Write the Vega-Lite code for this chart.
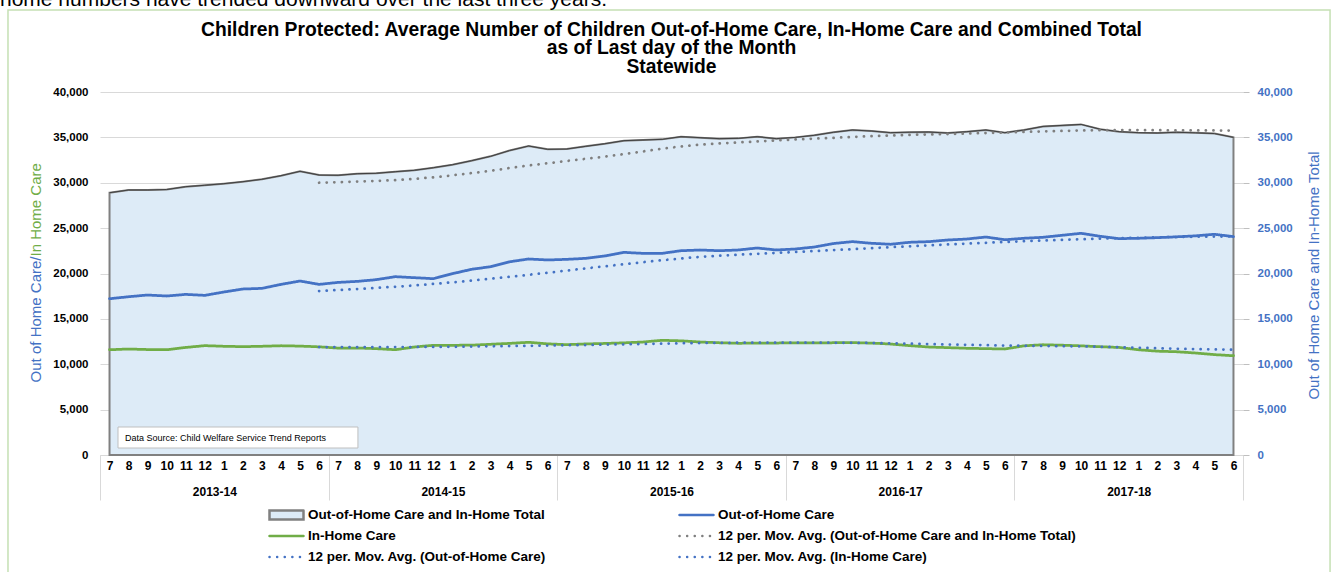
{
  "$schema": "https://vega.github.io/schema/vega-lite/v6.json",
  "width": 1143,
  "height": 363,
  "autosize": {"type": "none"},
  "padding": {"left": 100, "top": 92, "right": 100, "bottom": 117},
  "config": {"view": {"stroke": null}, "font": "Liberation Sans"},
  "title": {
    "text": ["Children Protected: Average Number of Children Out-of-Home Care, In-Home Care and Combined Total", "as of Last day of the Month", "Statewide"],
    "font": "Liberation Sans", "fontSize": 19.3, "fontWeight": "bold", "color": "#000000",
    "anchor": "middle", "frame": "group", "lineHeight": 18.5, "offset": -88
  },
  "datasets": {
    "main": [
      {"idx": 1, "total": 28900, "ooh": 17220, "inhome": 11600},
      {"idx": 2, "total": 29200, "ooh": 17440, "inhome": 11680},
      {"idx": 3, "total": 29200, "ooh": 17630, "inhome": 11620},
      {"idx": 4, "total": 29250, "ooh": 17520, "inhome": 11600},
      {"idx": 5, "total": 29570, "ooh": 17700, "inhome": 11850},
      {"idx": 6, "total": 29720, "ooh": 17590, "inhome": 12050},
      {"idx": 7, "total": 29900, "ooh": 17960, "inhome": 11980},
      {"idx": 8, "total": 30120, "ooh": 18290, "inhome": 11940},
      {"idx": 9, "total": 30380, "ooh": 18360, "inhome": 11980},
      {"idx": 10, "total": 30780, "ooh": 18800, "inhome": 12040},
      {"idx": 11, "total": 31260, "ooh": 19170, "inhome": 12000},
      {"idx": 12, "total": 30850, "ooh": 18800, "inhome": 11920, "ma_total": 30000, "ma_ooh": 18070, "ma_inhome": 11900},
      {"idx": 13, "total": 30820, "ooh": 19020, "inhome": 11780, "ma_total": 30060, "ma_ooh": 18180, "ma_inhome": 11890},
      {"idx": 14, "total": 31000, "ooh": 19130, "inhome": 11790, "ma_total": 30130, "ma_ooh": 18290, "ma_inhome": 11880},
      {"idx": 15, "total": 31040, "ooh": 19320, "inhome": 11720, "ma_total": 30200, "ma_ooh": 18410, "ma_inhome": 11880},
      {"idx": 16, "total": 31220, "ooh": 19650, "inhome": 11600, "ma_total": 30290, "ma_ooh": 18540, "ma_inhome": 11890},
      {"idx": 17, "total": 31370, "ooh": 19540, "inhome": 11900, "ma_total": 30420, "ma_ooh": 18680, "ma_inhome": 11900},
      {"idx": 18, "total": 31660, "ooh": 19430, "inhome": 12090, "ma_total": 30600, "ma_ooh": 18850, "ma_inhome": 11910},
      {"idx": 19, "total": 31990, "ooh": 19980, "inhome": 12090, "ma_total": 30820, "ma_ooh": 19030, "ma_inhome": 11920},
      {"idx": 20, "total": 32430, "ooh": 20460, "inhome": 12100, "ma_total": 31060, "ma_ooh": 19220, "ma_inhome": 11950},
      {"idx": 21, "total": 32910, "ooh": 20750, "inhome": 12200, "ma_total": 31320, "ma_ooh": 19420, "ma_inhome": 11980},
      {"idx": 22, "total": 33550, "ooh": 21290, "inhome": 12300, "ma_total": 31620, "ma_ooh": 19640, "ma_inhome": 12000},
      {"idx": 23, "total": 34050, "ooh": 21600, "inhome": 12420, "ma_total": 31900, "ma_ooh": 19860, "ma_inhome": 12030},
      {"idx": 24, "total": 33680, "ooh": 21490, "inhome": 12250, "ma_total": 32150, "ma_ooh": 20080, "ma_inhome": 12060},
      {"idx": 25, "total": 33720, "ooh": 21560, "inhome": 12160, "ma_total": 32400, "ma_ooh": 20320, "ma_inhome": 12090},
      {"idx": 26, "total": 34010, "ooh": 21670, "inhome": 12240, "ma_total": 32640, "ma_ooh": 20560, "ma_inhome": 12120},
      {"idx": 27, "total": 34300, "ooh": 21930, "inhome": 12290, "ma_total": 32880, "ma_ooh": 20800, "ma_inhome": 12160},
      {"idx": 28, "total": 34640, "ooh": 22330, "inhome": 12360, "ma_total": 33150, "ma_ooh": 21020, "ma_inhome": 12190},
      {"idx": 29, "total": 34710, "ooh": 22220, "inhome": 12450, "ma_total": 33450, "ma_ooh": 21250, "ma_inhome": 12230},
      {"idx": 30, "total": 34780, "ooh": 22220, "inhome": 12640, "ma_total": 33750, "ma_ooh": 21460, "ma_inhome": 12270},
      {"idx": 31, "total": 35080, "ooh": 22510, "inhome": 12580, "ma_total": 34000, "ma_ooh": 21660, "ma_inhome": 12310},
      {"idx": 32, "total": 34970, "ooh": 22590, "inhome": 12450, "ma_total": 34200, "ma_ooh": 21840, "ma_inhome": 12340},
      {"idx": 33, "total": 34860, "ooh": 22510, "inhome": 12370, "ma_total": 34330, "ma_ooh": 21960, "ma_inhome": 12360},
      {"idx": 34, "total": 34890, "ooh": 22590, "inhome": 12310, "ma_total": 34440, "ma_ooh": 22070, "ma_inhome": 12370},
      {"idx": 35, "total": 35080, "ooh": 22810, "inhome": 12330, "ma_total": 34550, "ma_ooh": 22170, "ma_inhome": 12380},
      {"idx": 36, "total": 34860, "ooh": 22590, "inhome": 12340, "ma_total": 34660, "ma_ooh": 22270, "ma_inhome": 12380},
      {"idx": 37, "total": 35000, "ooh": 22700, "inhome": 12350, "ma_total": 34770, "ma_ooh": 22370, "ma_inhome": 12380},
      {"idx": 38, "total": 35230, "ooh": 22920, "inhome": 12360, "ma_total": 34860, "ma_ooh": 22470, "ma_inhome": 12380},
      {"idx": 39, "total": 35560, "ooh": 23300, "inhome": 12370, "ma_total": 34950, "ma_ooh": 22580, "ma_inhome": 12370},
      {"idx": 40, "total": 35810, "ooh": 23510, "inhome": 12380, "ma_total": 35050, "ma_ooh": 22680, "ma_inhome": 12360},
      {"idx": 41, "total": 35700, "ooh": 23330, "inhome": 12330, "ma_total": 35130, "ma_ooh": 22790, "ma_inhome": 12340},
      {"idx": 42, "total": 35520, "ooh": 23220, "inhome": 12230, "ma_total": 35210, "ma_ooh": 22900, "ma_inhome": 12310},
      {"idx": 43, "total": 35570, "ooh": 23440, "inhome": 12050, "ma_total": 35270, "ma_ooh": 23000, "ma_inhome": 12270},
      {"idx": 44, "total": 35590, "ooh": 23510, "inhome": 11900, "ma_total": 35320, "ma_ooh": 23100, "ma_inhome": 12220},
      {"idx": 45, "total": 35480, "ooh": 23690, "inhome": 11830, "ma_total": 35370, "ma_ooh": 23200, "ma_inhome": 12180},
      {"idx": 46, "total": 35630, "ooh": 23800, "inhome": 11760, "ma_total": 35420, "ma_ooh": 23290, "ma_inhome": 12140},
      {"idx": 47, "total": 35810, "ooh": 24020, "inhome": 11720, "ma_total": 35480, "ma_ooh": 23380, "ma_inhome": 12100},
      {"idx": 48, "total": 35520, "ooh": 23720, "inhome": 11680, "ma_total": 35540, "ma_ooh": 23470, "ma_inhome": 12060},
      {"idx": 49, "total": 35810, "ooh": 23880, "inhome": 12030, "ma_total": 35600, "ma_ooh": 23560, "ma_inhome": 12030},
      {"idx": 50, "total": 36210, "ooh": 23990, "inhome": 12150, "ma_total": 35660, "ma_ooh": 23640, "ma_inhome": 12010},
      {"idx": 51, "total": 36320, "ooh": 24210, "inhome": 12100, "ma_total": 35710, "ma_ooh": 23710, "ma_inhome": 11990},
      {"idx": 52, "total": 36430, "ooh": 24430, "inhome": 12030, "ma_total": 35760, "ma_ooh": 23780, "ma_inhome": 11970},
      {"idx": 53, "total": 35900, "ooh": 24100, "inhome": 11930, "ma_total": 35790, "ma_ooh": 23840, "ma_inhome": 11930},
      {"idx": 54, "total": 35630, "ooh": 23840, "inhome": 11850, "ma_total": 35800, "ma_ooh": 23890, "ma_inhome": 11880},
      {"idx": 55, "total": 35520, "ooh": 23880, "inhome": 11600, "ma_total": 35800, "ma_ooh": 23940, "ma_inhome": 11820},
      {"idx": 56, "total": 35480, "ooh": 23950, "inhome": 11440, "ma_total": 35790, "ma_ooh": 23980, "ma_inhome": 11760},
      {"idx": 57, "total": 35560, "ooh": 24040, "inhome": 11380, "ma_total": 35780, "ma_ooh": 24020, "ma_inhome": 11710},
      {"idx": 58, "total": 35500, "ooh": 24150, "inhome": 11240, "ma_total": 35770, "ma_ooh": 24050, "ma_inhome": 11670},
      {"idx": 59, "total": 35420, "ooh": 24320, "inhome": 11060, "ma_total": 35760, "ma_ooh": 24070, "ma_inhome": 11630},
      {"idx": 60, "total": 35000, "ooh": 24060, "inhome": 10940, "ma_total": 35750, "ma_ooh": 24080, "ma_inhome": 11600}
    ]
  },
  "resolve": {"axis": {"x": "independent", "y": "independent"}},
  "layer": [
    {
      "data": {"values": [{"frame": "border"}]},
      "mark": {"type": "rect", "fill": "transparent", "stroke": "#C5E0B4", "strokeWidth": 1.5},
      "encoding": {
        "x": {"datum": -4.33, "type": "quantitative", "scale": {"domain": [0.5, 60.5], "nice": false, "zero": false}, "axis": null},
        "x2": {"datum": 65.07},
        "y": {"datum": 49035, "type": "quantitative", "scale": {"domain": [0, 40000], "nice": false, "zero": false}, "axis": null},
        "y2": {"datum": -16000}
      }
    },
    {
      "data": {"values": [{"note": "home numbers have trended downward over the last three years."}]},
      "mark": {"type": "text", "align": "left", "baseline": "alphabetic", "font": "Liberation Sans", "fontSize": 21, "color": "#000000"},
      "encoding": {
        "text": {"field": "note"},
        "x": {"datum": -4.75, "type": "quantitative", "scale": {"domain": [0.5, 60.5], "nice": false, "zero": false}, "axis": null},
        "y": {"datum": 49475, "type": "quantitative", "scale": {"domain": [0, 40000], "nice": false, "zero": false}, "axis": null}
      }
    },
    {
      "data": {"name": "main"},
      "mark": {"type": "area", "fill": "#DDEBF7", "stroke": "#808080", "strokeWidth": 2},
      "encoding": {
        "x": {
          "field": "idx", "type": "quantitative",
          "scale": {"domain": [0.5, 60.5], "nice": false, "zero": false},
          "axis": {
            "orient": "bottom", "title": null, "values": [0.5, 12.5, 24.5, 36.5, 48.5, 60.5],
            "labels": false, "ticks": true, "tickSize": 45, "tickColor": "#D9D9D9", "tickWidth": 1,
            "domain": true, "domainColor": "#D9D9D9", "domainWidth": 1, "grid": false
          }
        },
        "y": {
          "field": "total", "type": "quantitative",
          "scale": {"domain": [0, 40000], "nice": false, "zero": false},
          "axis": {
            "orient": "left", "values": [0, 5000, 10000, 15000, 20000, 25000, 30000, 35000, 40000],
            "labelExpr": "format(datum.value, ',')", "labelFont": "Liberation Sans", "labelFontSize": 11.5, "labelFontWeight": "bold",
            "labelColor": "#000000", "labelPadding": 12, "labelOverlap": false, "ticks": false, "domain": false,
            "grid": true, "gridColor": "#D9D9D9", "gridWidth": 1,
            "title": "In Home Care", "titleColor": "#70AD47", "titleFont": "Liberation Sans", "titleFontSize": 15,
            "titleFontWeight": "normal", "titleAngle": -90, "titleAlign": "left", "titleBaseline": "middle",
            "titleX": -65, "titleY": 164
          }
        }
      }
    },
    {
      "data": {"name": "main"},
      "mark": {"type": "line", "color": "#404040", "strokeWidth": 1},
      "encoding": {
        "x": {
          "field": "idx", "type": "quantitative",
          "scale": {"domain": [0.5, 60.5], "nice": false, "zero": false},
          "axis": {
            "orient": "bottom", "title": null, "values": [6.5, 18.5, 30.5, 42.5, 54.5],
            "labelExpr": "['2013-14','2014-15','2015-16','2016-17','2017-18'][floor((datum.value - 0.5) / 12)]",
            "labelFont": "Liberation Sans", "labelFontSize": 12, "labelFontWeight": "bold", "labelColor": "#000000",
            "labelPadding": 31, "labelFlush": false, "labelOverlap": false, "ticks": false, "domain": false, "grid": false
          }
        },
        "y": {
          "field": "total", "type": "quantitative",
          "scale": {"domain": [0, 40000], "nice": false, "zero": false},
          "axis": {
            "orient": "right", "values": [0, 5000, 10000, 15000, 20000, 25000, 30000, 35000, 40000],
            "labelExpr": "format(datum.value, ',')", "labelFont": "Liberation Sans", "labelFontSize": 11.5, "labelFontWeight": "bold",
            "labelColor": "#4472C4", "labelPadding": 8, "labelOverlap": false,
            "ticks": true, "tickSize": 6, "tickColor": "#BFBFBF", "domain": false, "grid": false,
            "title": "Out of Home Care and In-Home Total", "titleColor": "#4472C4", "titleFont": "Liberation Sans",
            "titleFontSize": 15, "titleFontWeight": "normal", "titleAngle": -90, "titleAlign": "center",
            "titleBaseline": "middle", "titleX": 70, "titleY": 183
          }
        }
      }
    },
    {
      "data": {"name": "main"},
      "transform": [{"fold": ["ooh", "inhome", "ma_total", "ma_ooh", "ma_inhome"], "as": ["series", "value"]}],
      "mark": {"type": "line", "strokeWidth": 2.75, "strokeCap": "round", "strokeJoin": "round"},
      "encoding": {
        "x": {
          "field": "idx", "type": "quantitative",
          "scale": {"domain": [0.5, 60.5], "nice": false, "zero": false},
          "axis": {
            "orient": "bottom", "title": null,
            "values": [1,2,3,4,5,6,7,8,9,10,11,12,13,14,15,16,17,18,19,20,21,22,23,24,25,26,27,28,29,30,31,32,33,34,35,36,37,38,39,40,41,42,43,44,45,46,47,48,49,50,51,52,53,54,55,56,57,58,59,60],
            "labelExpr": "['7','8','9','10','11','12','1','2','3','4','5','6'][(datum.value - 1) % 12]",
            "labelFont": "Liberation Sans", "labelFontSize": 12, "labelFontWeight": "bold", "labelColor": "#000000",
            "labelPadding": 5, "labelFlush": false, "labelOverlap": false, "ticks": false, "domain": false, "grid": false
          }
        },
        "y": {
          "field": "value", "type": "quantitative",
          "scale": {"domain": [0, 40000], "nice": false, "zero": false},
          "axis": {
            "orient": "left", "labels": false, "ticks": false, "domain": false, "grid": false,
            "title": "Out of Home Care/", "titleColor": "#4472C4", "titleFont": "Liberation Sans", "titleFontSize": 15,
            "titleFontWeight": "normal", "titleAngle": -90, "titleAlign": "right", "titleBaseline": "middle",
            "titleX": -65, "titleY": 164
          }
        },
        "color": {
          "field": "series", "type": "nominal",
          "scale": {
            "domain": ["total", "inhome", "ma_ooh", "ooh", "ma_total", "ma_inhome"],
            "range": ["#808080", "#70AD47", "#4472C4", "#4472C4", "#7F7F7F", "#4472C4"]
          },
          "legend": {
            "title": null, "orient": "none", "legendX": 168, "legendY": 416, "columns": 2,
            "columnPadding": 132, "rowPadding": 7, "clipHeight": 14, "symbolSize": 1156,
            "labelFont": "Liberation Sans", "labelFontSize": 13.5, "labelFontWeight": "bold", "labelColor": "#000000",
            "labelOffset": 3, "labelLimit": 600,
            "labelExpr": "datum.value === 'total' ? 'Out-of-Home Care and In-Home Total' : datum.value === 'ooh' ? 'Out-of-Home Care' : datum.value === 'inhome' ? 'In-Home Care' : datum.value === 'ma_total' ? '12 per. Mov. Avg. (Out-of-Home Care and In-Home Total)' : datum.value === 'ma_ooh' ? '12 per. Mov. Avg. (Out-of-Home Care)' : '12 per. Mov. Avg. (In-Home Care)'",
            "encode": {
              "symbols": {
                "update": {
                  "size": {"value": 1156},
                  "shape": {"signal": "datum.value === 'total' ? 'M-1,-0.27H1V0.27H-1Z' : 'stroke'"},
                  "fill": {"signal": "datum.value === 'total' ? '#DDEBF7' : 'transparent'"},
                  "stroke": {"signal": "datum.value === 'total' ? '#595959' : datum.value === 'inhome' ? '#70AD47' : datum.value === 'ma_total' ? '#7F7F7F' : '#4472C4'"},
                  "strokeDash": {"signal": "(datum.value === 'ma_total' || datum.value === 'ma_ooh' || datum.value === 'ma_inhome') ? [0.1, 6] : [1, 0]"},
                  "strokeWidth": {"value": 2.5},
                  "strokeCap": {"value": "round"},
                  "opacity": {"value": 1}
                }
              }
            }
          }
        },
        "strokeDash": {
          "field": "series", "type": "nominal",
          "scale": {
            "domain": ["total", "inhome", "ma_ooh", "ooh", "ma_total", "ma_inhome"],
            "range": [[1, 0], [1, 0], [0.1, 7.5], [1, 0], [0.1, 7.5], [0.1, 7.5]]
          },
          "legend": null
        }
      }
    },
    {
      "data": {"values": [{"box": "source"}]},
      "mark": {"type": "rect", "fill": "#FFFFFF", "stroke": "#BFBFBF", "strokeWidth": 1},
      "encoding": {
        "x": {"datum": 1.445, "type": "quantitative", "scale": {"domain": [0.5, 60.5], "nice": false, "zero": false}, "axis": null},
        "x2": {"datum": 14.04},
        "y": {"datum": 3085, "type": "quantitative", "scale": {"domain": [0, 40000], "nice": false, "zero": false}, "axis": null},
        "y2": {"datum": 771}
      }
    },
    {
      "data": {"values": [{"label": "Data Source: Child Welfare Service Trend Reports"}]},
      "mark": {"type": "text", "align": "left", "baseline": "middle", "font": "Liberation Sans", "fontSize": 9, "color": "#000000"},
      "encoding": {
        "text": {"field": "label"},
        "x": {"datum": 1.81, "type": "quantitative", "scale": {"domain": [0.5, 60.5], "nice": false, "zero": false}, "axis": null},
        "y": {"datum": 1928, "type": "quantitative", "scale": {"domain": [0, 40000], "nice": false, "zero": false}, "axis": null}
      }
    }
  ]
}
